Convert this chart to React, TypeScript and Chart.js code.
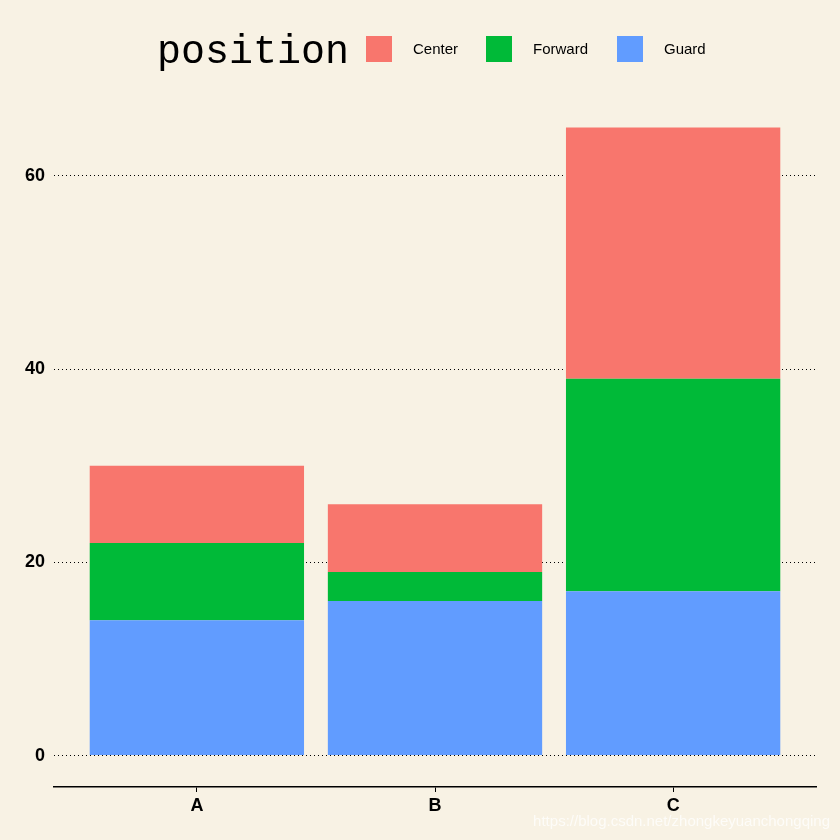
import { useEffect, useRef } from 'react';
import { Chart, registerables } from 'chart.js';

Chart.register(...registerables);

const categories = ['A', 'B', 'C'];
const guard = [14, 16, 17];
const forward = [8, 3, 22];
const center = [8, 7, 26];
const yTicks = [0, 20, 40, 60];

const seriesNames = ['Guard', 'Forward', 'Center'];
const seriesColors = ['#619CFF', '#00BA38', '#F8766D'];
const legendOrder = [2, 1, 0];

const BG = '#F8F2E4';

// legend row with the title on its left, plus the watermark
const legendPlugin = {
  id: 'wsjLegend',
  afterDraw(chart: Chart) {
    const ctx = chart.ctx;
    ctx.save();
    ctx.fillStyle = '#000';
    ctx.textBaseline = 'middle';
    ctx.font = '40px "Liberation Mono", monospace';
    ctx.fillText('position', 157, 52);
    const boxX = [366, 486, 617];
    legendOrder.forEach((s, i) => {
      ctx.fillStyle = seriesColors[s];
      ctx.fillRect(boxX[i], 36, 26, 26);
      ctx.fillStyle = '#000';
      ctx.font = '15px "Liberation Sans", Arial, sans-serif';
      ctx.fillText(seriesNames[s], boxX[i] + 47, 50);
    });
    ctx.fillStyle = 'rgba(255,255,255,0.75)';
    ctx.font = '15px "Liberation Sans", Arial, sans-serif';
    ctx.textAlign = 'right';
    ctx.fillText('https://blog.csdn.net/zhongkeyuanchongqing', 830, 822);
    ctx.restore();
  },
};

export default function App() {
  const chartRef = useRef<HTMLCanvasElement>(null);
  const chartInstance = useRef<Chart | null>(null);

  useEffect(() => {
    document.body.style.margin = '0';
    document.body.style.background = BG;
    if (!chartRef.current) return;
    if (chartInstance.current) chartInstance.current.destroy();

    const series = [guard, forward, center];
    const ctx = chartRef.current.getContext('2d');
    if (!ctx) return;

    chartInstance.current = new Chart(ctx, {
      type: 'bar',
      data: {
        datasets: series.map((vals, s) => ({
          label: seriesNames[s],
          data: vals.map((v, i) => ({ x: i + 1, y: v })),
          backgroundColor: seriesColors[s],
          borderWidth: 0,
          barPercentage: 0.9,
          categoryPercentage: 1,
        })),
      },
      options: {
        animation: false,
        responsive: false,
        layout: { padding: { top: 96, right: 24, left: 0, bottom: 0 } },
        plugins: {
          legend: { display: false },
          tooltip: { enabled: false },
        },
        scales: {
          x: {
            type: 'linear',
            stacked: true,
            offset: false,
            min: 0.4,
            max: 3.6,
            afterBuildTicks: (scale: any) => {
              scale.ticks = categories.map((_, i) => ({ value: i + 1 }));
            },
            afterFit: (scale: any) => {
              scale.height = 53;
            },
            ticks: {
              callback: (v: any) => categories[Math.round(v) - 1] ?? '',
              color: '#000',
              padding: 3,
              maxRotation: 0,
              font: { family: '"Liberation Sans", Arial, sans-serif', size: 18, weight: 'bold' },
            },
            grid: {
              offset: false,
              drawOnChartArea: false,
              drawTicks: true,
              tickLength: 5,
              color: '#000',
            },
            border: { display: true, color: '#000', width: 1.5 },
          },
          y: {
            stacked: true,
            min: -3.25,
            max: 68.25,
            afterBuildTicks: (scale: any) => {
              scale.ticks = yTicks.map((v) => ({ value: v }));
            },
            afterFit: (scale: any) => {
              scale.width = 54;
            },
            ticks: {
              color: '#000',
              padding: 9,
              font: { family: '"Liberation Sans", Arial, sans-serif', size: 18, weight: 'bold' },
            },
            grid: {
              drawTicks: false,
              color: '#000',
              lineWidth: 1,
            },
            border: { display: false, dash: [1, 3] },
          },
        },
      },
      plugins: [legendPlugin],
    });

    return () => {
      if (chartInstance.current) {
        chartInstance.current.destroy();
        chartInstance.current = null;
      }
    };
  }, []);

  return (
    <div style={{ width: 840, height: 840, background: BG }}>
      <canvas ref={chartRef} width={840} height={840} />
    </div>
  );
}
